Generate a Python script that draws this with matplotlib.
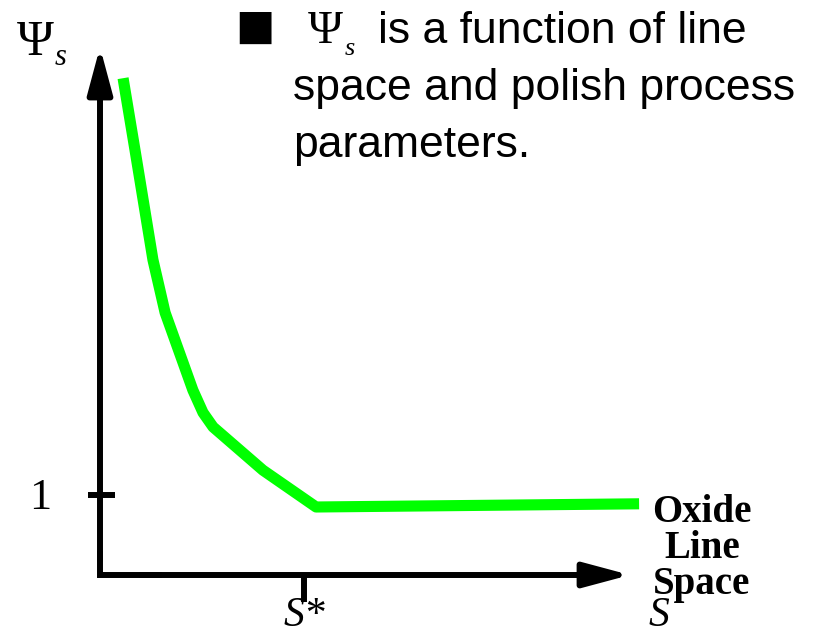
import numpy as np
import matplotlib.pyplot as plt

# curve data: line space (in units of S*) vs planarization factor Psi_s
space = [0.112, 0.170, 0.257, 0.316, 0.451, 0.500, 0.549, 0.791, 1.049, 2.617]
psi = [6.21, 5.31, 3.94, 3.28, 2.31, 2.03, 1.85, 1.31, 0.85, 0.89]

ytick_val = 1
ytick_label = '1'
xtick_val = 0.99
xtick_label = 'S*'
x_end_label = 'S'
x_title = ['Oxide', 'Line', 'Space']
bullet_lines = ['is a function of line', 'space and polish process', 'parameters.']

fig = plt.figure(figsize=(8.2, 6.37), dpi=100)
ax = fig.add_axes([0, 0, 1, 1])
# 1 unit of x = 206 px, 1 unit of psi = 80 px, origin at (100, 575) px
ax.set_xlim(-100 / 206, 720 / 206)
ax.set_ylim(-62 / 80, 575 / 80)
ax.axis('off')

# axes with arrowheads
lw_axis = 4.3
head = '-|>,head_length=2.8,head_width=0.75'
ax.annotate('', xy=(0, 6.6), xytext=(0, 0.2),
            arrowprops=dict(arrowstyle=head, lw=lw_axis, color='black',
                            shrinkA=0, shrinkB=0))
ax.annotate('', xy=(2.573, 0), xytext=(0.2, 0),
            arrowprops=dict(arrowstyle=head, lw=lw_axis, color='black',
                            shrinkA=0, shrinkB=0))
ax.plot([0, 0, 0.3], [0.3, 0, 0], color='black', lw=lw_axis,
        solid_joinstyle='miter', solid_capstyle='butt')

# ticks
ax.plot([-0.058, 0.073], [ytick_val, ytick_val], color='black', lw=lw_axis,
        solid_capstyle='butt')
ax.plot([xtick_val, xtick_val], [0, -0.34], color='black', lw=lw_axis,
        solid_capstyle='butt')
ax.text(-0.291, 0.96, ytick_label, fontsize=32, family='Liberation Serif',
        ha='center', va='center')
ax.text(xtick_val, -0.64, xtick_label, fontsize=30, family='Liberation Serif',
        style='italic', ha='center', va='baseline')
ax.text(2.714, -0.64, x_end_label, fontsize=30, family='Liberation Serif',
        style='italic', ha='center', va='baseline')

# axis titles
ax.text(-0.313, 6.5, '\u03a8', fontsize=36, family='Liberation Serif',
        ha='center', va='baseline')
ax.text(-0.218, 6.375, 's', fontsize=22, family='Liberation Serif',
        style='italic', ha='left', va='baseline')
for i, word in enumerate(x_title):
    ax.text(2.922, 0.6625 - i * 0.45, word, fontsize=28, family='Liberation Serif',
            fontweight='bold', ha='center', va='baseline')

# curve
ax.plot(space, psi, color='#00ff00', lw=8, solid_joinstyle='round',
        solid_capstyle='butt')

# bullet text
ax.text(0.655, 6.85, '\u25A0', fontsize=30, family='DejaVu Sans',
        ha='left', va='center')
ax.text(1.092, 6.65, '\u03a8', fontsize=34, family='Liberation Serif',
        ha='center', va='baseline')
ax.text(1.189, 6.5, 's', fontsize=19, family='Liberation Serif',
        style='italic', ha='left', va='baseline')
ax.text(1.35, 6.65, bullet_lines[0], fontsize=32,
        family='Liberation Sans', ha='left', va='baseline')
ax.text(0.937, 5.9375, bullet_lines[1], fontsize=32,
        family='Liberation Sans', ha='left', va='baseline')
ax.text(0.937, 5.225, bullet_lines[2], fontsize=32,
        family='Liberation Sans', ha='left', va='baseline')

fig.savefig('out.png', dpi=100)
